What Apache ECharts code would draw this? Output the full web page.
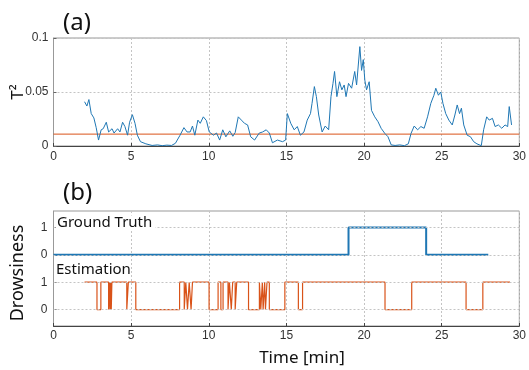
<!DOCTYPE html>
<html>
<head>
<meta charset="utf-8">
<script src="https://cdn.jsdelivr.net/npm/echarts@6/dist/echarts.min.js"></script>
<style>
  html, body { margin: 0; padding: 0; background: #fff; }
  #chart { width: 529px; height: 370px; }
</style>
</head>
<body>
<div id="chart"></div>
<script>
// panel (a): T^2 statistic over time
const t2Time = [2.0, 2.15, 2.28, 2.43, 2.6, 2.75, 2.9, 3.07, 3.2, 3.4, 3.55, 3.77, 3.9, 4.13, 4.28, 4.45, 4.6, 4.77, 4.9, 5.08,
  5.25, 5.4, 5.6, 5.95, 6.35, 6.7, 7.0, 7.3, 7.6, 7.85, 8.15, 8.4, 8.6, 8.8, 8.95, 9.1, 9.3, 9.45, 9.65, 9.85,
  10.03, 10.3, 10.5, 10.7, 10.9, 11.1, 11.35, 11.55, 11.7, 11.9, 12.1, 12.3, 12.5, 12.7, 12.95, 13.25, 13.47, 13.7, 13.9, 14.1,
  14.42, 14.75, 14.95, 15.06, 15.28, 15.5, 15.7, 15.9, 16.13, 16.34, 16.55, 16.65, 16.8, 16.93, 17.08, 17.3, 17.5, 17.72, 17.87, 18.0,
  18.1, 18.25, 18.42, 18.57, 18.72, 18.84, 19.0, 19.2, 19.4, 19.52, 19.73, 19.84, 19.95, 20.05, 20.16, 20.33, 20.48, 20.69, 20.9, 21.1,
  21.33, 21.54, 21.75, 22.0, 22.3, 22.6, 22.85, 23.03, 23.23, 23.45, 23.66, 23.87, 24.09, 24.3, 24.5, 24.62, 24.79, 24.94, 25.08, 25.26,
  25.46, 25.68, 25.85, 26.0, 26.15, 26.27, 26.42, 26.64, 26.85, 27.06, 27.27, 27.55, 27.7, 27.9, 28.06, 28.27, 28.44, 28.65, 28.87, 29.08,
  29.25, 29.35, 29.5];
const t2Value = [0.041, 0.037, 0.043, 0.030, 0.026, 0.017, 0.0055, 0.015, 0.016, 0.022, 0.013, 0.016, 0.012, 0.016, 0.013, 0.022, 0.018, 0.010, 0.022, 0.029,
  0.021, 0.010, 0.004, 0.002, 0.0005, 0.001, 0.0003, 0.0008, 0.0005, 0.0025, 0.010, 0.017, 0.013, 0.013, 0.0185, 0.010, 0.024, 0.021, 0.027, 0.0235,
  0.013, 0.010, 0.012, 0.0055, 0.015, 0.0085, 0.014, 0.009, 0.0125, 0.027, 0.024, 0.021, 0.0195, 0.0085, 0.0055, 0.012, 0.013, 0.015, 0.012, 0.003,
  0.0055, 0.004, 0.0055, 0.030, 0.021, 0.015, 0.018, 0.010, 0.013, 0.024, 0.030, 0.0395, 0.055, 0.0457, 0.0287, 0.013, 0.0185, 0.015, 0.0457, 0.058,
  0.069, 0.0457, 0.0595, 0.052, 0.0565, 0.0457, 0.058, 0.0535, 0.069, 0.0565, 0.092, 0.070, 0.080, 0.061, 0.052, 0.0595, 0.033, 0.027, 0.0225, 0.0164,
  0.0118, 0.0086, 0.001, 0.0005, 0.001, 0.0003, 0.002, 0.0118, 0.0185, 0.015, 0.018, 0.0164, 0.027, 0.0395, 0.047, 0.0535, 0.047, 0.050, 0.0395, 0.030,
  0.024, 0.0195, 0.0287, 0.038, 0.030, 0.035, 0.0195, 0.010, 0.0086, 0.004, 0.002, 0.0003, 0.015, 0.027, 0.024, 0.0256, 0.018, 0.0195, 0.0164, 0.0195,
  0.018, 0.0365, 0.0195];
const threshold = 0.011;

// panel (b): drowsiness, value holds from its time until the next one
const gtTime = [0, 19, 24, 28];
const gtLevel = [0, 1, 0, 0];
const estTime = [2.0, 2.8, 3.05, 3.55, 3.6, 3.64, 3.68, 3.72, 3.76, 4.72, 4.82, 5.3, 8.12, 8.42, 8.52, 8.63, 8.74, 8.86, 8.95, 10.02,
  10.6, 10.78, 10.92, 11.24, 11.33, 11.45, 11.54, 11.7, 11.8, 12.56, 13.26, 13.35, 13.45, 13.5, 13.6, 13.65, 13.75, 13.9, 14.9, 15.77,
  16.04, 21.35, 23.07, 26.57, 27.65, 29.4];
const estLevel = [1, 0, 1, 0, 1, 0, 1, 0, 1, 0, 1, 0, 1, 0, 1, 0, 1, 0, 1, 0,
  1, 0, 1, 0, 1, 0, 1, 0, 1, 0, 1, 0, 1, 0, 1, 0, 1, 0, 1, 0,
  1, 0, 1, 0, 1, 1];
const bLabels = ['0', '1', '0', '1'];
const gtOffset = 2;

const blue = '#1f77b4';
const orange = '#d95319';
const tickFont = { fontFamily: 'Liberation Sans', fontSize: 12, color: '#333' };
const dotted = { type: [2, 2], color: '#c4c4c4', width: 1 };

const chart = echarts.init(document.getElementById('chart'));

const xAxisCommon = {
  type: 'value', min: 0, max: 30, interval: 5,
  axisLine: { show: true, onZero: false, lineStyle: { color: '#444' } },
  axisTick: { inside: true, length: 3, lineStyle: { color: '#444' } },
  splitLine: { show: true, lineStyle: dotted },
  axisLabel: Object.assign({}, tickFont, { margin: 5 })
};

const option = {
  animation: false,
  grid: [
    { left: 53.5, right: 4.5, top: 38, height: 108, show: true, borderColor: '#999', borderWidth: 1 },
    { left: 53.5, right: 6, top: 211, height: 115, show: true, borderColor: '#999', borderWidth: 1 }
  ],
  xAxis: [
    Object.assign({ gridIndex: 0 }, xAxisCommon),
    Object.assign({ gridIndex: 1 }, xAxisCommon, { axisLabel: Object.assign({}, tickFont, { margin: 4 }) })
  ],
  yAxis: [
    {
      gridIndex: 0, type: 'value', min: 0, max: 0.1, interval: 0.05,
      axisLine: { show: true, onZero: false, lineStyle: { color: '#999' } },
      axisTick: { inside: true, length: 3, lineStyle: { color: '#666' } },
      splitLine: { show: true, lineStyle: dotted },
      axisLabel: Object.assign({}, tickFont, { margin: 5, formatter: v => String(+v.toFixed(2)) })
    },
    {
      gridIndex: 1, type: 'value', min: -0.6, max: 3.6,
      axisLine: { show: true, onZero: false, lineStyle: { color: '#999' } },
      axisTick: { show: true, inside: true, length: 3, customValues: [0, 1, 2, 3], lineStyle: { color: '#666' } },
      splitLine: { show: false },
      axisLabel: Object.assign({}, tickFont, { margin: 6, customValues: [0, 1, 2, 3], formatter: v => bLabels[Math.round(v)] })
    }
  ],
  series: [
    {
      name: 'T2', type: 'line', xAxisIndex: 0, yAxisIndex: 0, symbol: 'none', z: 3,
      lineStyle: { color: blue, width: 1 },
      data: t2Time.map((t, i) => [t, t2Value[i]])
    },
    {
      name: 'threshold', type: 'line', xAxisIndex: 0, yAxisIndex: 0, symbol: 'none', z: 2,
      lineStyle: { color: orange, width: 1 },
      data: [[0, threshold], [30, threshold]]
    },
    {
      name: 'gridlines', type: 'line', xAxisIndex: 1, yAxisIndex: 1, data: [], z: 1, silent: true,
      markLine: {
        symbol: 'none', silent: true, label: { show: false },
        lineStyle: dotted,
        data: [0, 1, 2, 3].map(v => ({ yAxis: v }))
      }
    },
    {
      name: 'Ground Truth', type: 'line', xAxisIndex: 1, yAxisIndex: 1, symbol: 'none', step: 'end', z: 3,
      lineStyle: { color: blue, width: 2 },
      data: gtTime.map((t, i) => [t, gtLevel[i] + gtOffset])
    },
    {
      name: 'Estimation', type: 'line', xAxisIndex: 1, yAxisIndex: 1, symbol: 'none', step: 'end', z: 3,
      lineStyle: { color: orange, width: 1.2 },
      data: estTime.map((t, i) => [t, estLevel[i]])
    }
  ],
  graphic: [
    { type: 'text', left: 63, top: 11, style: { text: '(a)', font: '24px "Noto Sans"', fill: '#111' } },
    { type: 'text', left: 63, top: 181, style: { text: '(b)', font: '24px "Noto Sans"', fill: '#111' } },
    { type: 'text', x: 18, y: 92, rotation: Math.PI / 2,
      style: { text: 'T²', font: '17px "Noto Sans"', fill: '#111', align: 'center', verticalAlign: 'middle' } },
    { type: 'text', x: 18, y: 273, rotation: Math.PI / 2,
      style: { text: 'Drowsiness', font: '18px "Noto Sans"', fill: '#111', align: 'center', verticalAlign: 'middle' } },
    { type: 'text', x: 302, y: 358,
      style: { text: 'Time [min]', font: '17px "Noto Sans"', fill: '#111', align: 'center', verticalAlign: 'middle' } },
    { type: 'text', x: 56, y: 223, z: 10,
      style: { text: 'Ground Truth', font: '15px "Noto Sans"', fill: '#111', verticalAlign: 'middle',
        backgroundColor: '#fff', padding: [0, 3, 0, 1] } },
    { type: 'text', x: 56, y: 270, z: 10,
      style: { text: 'Estimation', font: '15px "Noto Sans"', fill: '#111', verticalAlign: 'middle' } }
  ]
};

chart.setOption(option);
</script>
</body>
</html>
